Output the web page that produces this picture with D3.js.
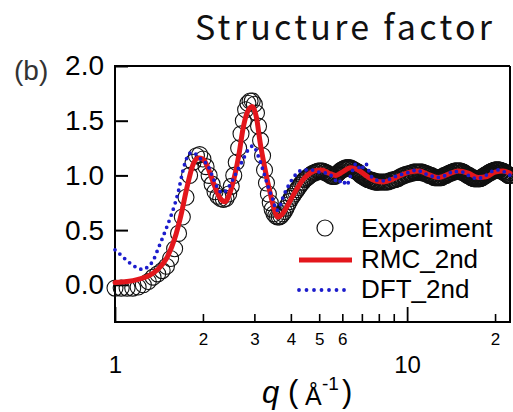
<!DOCTYPE html>
<html>
<head>
<meta charset="utf-8">
<script src="https://cdn.jsdelivr.net/npm/d3@7"></script>
<style>
  html, body { margin: 0; padding: 0; background: #fff; }
  svg { display: block; }
</style>
</head>
<body>
<script>
// ---- Structure factor S(q): experiment, RMC fit and DFT result ----

// Experiment (q in 1/Å, S(q))
const expQ = [
  1.00,1.05,1.10,1.15,1.20,1.25,1.30,1.35,1.40,1.45,
  1.50,1.55,1.60,1.65,1.70,1.75,1.80,1.85,1.90,1.95,
  2.00,2.05,2.10,2.15,2.20,2.25,2.30,2.35,2.40,2.45,
  2.50,2.55,2.60,2.65,2.70,2.75,2.80,2.85,2.90,2.95,
  3.00,3.05,3.10,3.15,3.20,3.25,3.30,3.35,3.40,3.45,
  3.50,3.55,3.60,3.65,3.70,3.75,3.80,3.85,3.90,3.95,
  4.00,
  4.05,4.10,4.15,4.20,4.25,4.30,4.35,4.40,4.45,4.50,
  4.55,4.60,4.65,4.70,4.75,4.80,4.85,4.90,4.95,5.00,
  5.05,5.10,5.15,5.20,5.25,5.30,5.35,5.40,5.45,5.50,
  5.55,5.60,5.65,5.70,5.75,5.80,5.85,5.90,5.95,6.00,
  6.05,6.10,6.15,6.20,6.25,6.30,6.35,6.40,6.45,6.50,
  6.55,6.60,6.65,6.70,6.75,6.80,6.85,6.90,6.95,7.00,
  7.05,7.10,7.15,7.20,7.25,7.30,7.35,7.40,7.45,7.50,
  7.55,7.60,7.65,7.70,7.75,7.80,7.85,7.90,7.95,8.00,
  8.1,8.2,8.3,8.4,8.5,8.6,8.7,8.8,8.9,9.0,
  9.1,9.2,9.3,9.4,9.5,9.6,9.7,9.8,9.9,10.0,
  10.1,10.2,10.3,10.4,10.5,10.6,10.7,10.8,10.9,11.0,
  11.1,11.2,11.3,11.4,11.5,11.6,11.7,11.8,11.9,12.0,
  12.1,12.2,12.3,12.4,12.5,12.6,12.7,12.8,12.9,13.0,
  13.1,13.2,13.3,13.4,13.5,13.6,13.7,13.8,13.9,14.0,
  14.1,14.2,14.3,14.4,14.5,14.6,14.7,14.8,14.9,15.0,
  15.1,15.2,15.3,15.4,15.5,15.6,15.7,15.8,15.9,16.0,
  16.1,16.2,16.3,16.4,16.5,16.6,16.7,16.8,16.9,17.0,
  17.1,17.2,17.3,17.4,17.5,17.6,17.7,17.8,17.9,18.0,
  18.1,18.2,18.3,18.4,18.5,18.6,18.7,18.8,18.9,19.0,
  19.1,19.2,19.3,19.4,19.5,19.6,19.7,19.8,19.9,20.0,
  20.1,20.2,20.3,20.4,20.5,20.6,20.7,20.8,20.9,21.0,
  21.1,21.2,21.3,21.4,21.5,21.6,21.7,21.8,21.9,22.0,
  22.1,22.2,22.3,22.4,22.5
];
const expS = [
  -0.03,-0.03,-0.03,-0.03,-0.02,0.00,0.03,0.07,0.10,0.13,
  0.17,0.24,0.33,0.47,0.62,0.80,1.00,1.12,1.18,1.19,
  1.15,1.08,1.00,0.92,0.85,0.81,0.79,0.78,0.79,0.83,
  0.90,1.00,1.12,1.25,1.38,1.50,1.60,1.66,1.68,1.68,
  1.65,1.57,1.45,1.32,1.18,1.05,0.93,0.83,0.75,0.69,
  0.65,0.63,0.62,0.62,0.63,0.65,0.67,0.70,0.73,0.76,
  0.79,
  0.81,0.83,0.85,0.87,0.89,0.91,0.93,0.94,0.96,0.97,
  0.98,0.99,1.00,1.01,1.02,1.02,1.03,1.03,1.04,1.04,
  1.04,1.04,1.04,1.03,1.03,1.02,1.02,1.01,1.00,1.00,
  0.99,0.99,0.99,1.00,1.01,1.02,1.03,1.04,1.05,1.05,
  1.06,1.06,1.07,1.07,1.07,1.07,1.07,1.07,1.06,1.06,
  1.05,1.05,1.04,1.04,1.03,1.03,1.02,1.01,1.00,1.00,
  0.99,0.99,0.98,0.98,0.97,0.97,0.96,0.96,0.96,0.96,
  0.95,0.95,0.95,0.95,0.94,0.94,0.94,0.94,0.94,0.94,
  0.94,0.94,0.94,0.94,0.94,0.94,0.95,0.95,0.96,0.96,
  0.96,0.97,0.97,0.98,0.99,0.99,1.00,1.00,1.01,1.01,
  1.01,1.02,1.02,1.02,1.03,1.03,1.03,1.03,1.03,1.03,
  1.03,1.03,1.03,1.02,1.02,1.02,1.01,1.01,1.00,1.00,
  1.00,0.99,0.99,0.98,0.98,0.98,0.98,0.98,0.98,0.98,
  0.98,0.99,0.99,1.00,1.00,1.00,1.01,1.01,1.02,1.02,
  1.02,1.03,1.03,1.03,1.04,1.04,1.04,1.04,1.04,1.04,
  1.04,1.04,1.04,1.03,1.03,1.03,1.02,1.02,1.01,1.01,
  1.00,1.00,1.00,0.99,0.99,0.98,0.98,0.98,0.97,0.97,
  0.97,0.97,0.97,0.97,0.97,0.97,0.97,0.97,0.98,0.98,
  0.98,0.99,0.99,1.00,1.00,1.00,1.01,1.01,1.02,1.02,
  1.02,1.03,1.03,1.03,1.04,1.04,1.04,1.04,1.05,1.05,
  1.05,1.05,1.05,1.05,1.05,1.05,1.05,1.05,1.04,1.04,
  1.04,1.04,1.04,1.03,1.03,1.03,1.02,1.02,1.01,1.01,
  1.01,1.00,1.00,1.00,1.00
];

// RMC_2nd
const rmcQ = [
  1.00,1.10,1.20,1.30,1.40,1.50,1.60,1.68,1.76,1.85,
  1.93,2.00,2.08,2.18,2.28,2.38,2.48,2.58,2.66,2.74,
  2.84,2.95,3.05,3.14,3.25,3.39,3.50,3.61,3.72,3.85,
  4.00,4.20,4.40,4.60,4.80,5.10,5.40,5.70,6.00,6.40,
  6.80,7.30,7.80,8.30,8.80,9.50,10.2,11.0,11.8,12.8,
  13.8,15.0,16.2,17.5,18.8,20.0,21.3,22.5
];
const rmcS = [
  0.02,0.03,0.05,0.08,0.14,0.24,0.42,0.63,0.88,1.10,
  1.16,1.15,1.07,0.92,0.80,0.76,0.85,1.02,1.20,1.42,
  1.58,1.63,1.53,1.30,1.08,0.85,0.70,0.62,0.64,0.70,
  0.78,0.88,0.96,1.01,1.04,1.05,1.02,1.00,1.03,1.07,
  1.05,0.99,0.95,0.94,0.96,1.00,1.03,1.04,1.01,0.98,
  1.01,1.04,1.02,0.98,0.99,1.03,1.04,1.02
];

// DFT_2nd
const dftQ = [
  1.00,1.05,1.10,1.15,1.20,1.25,1.30,1.35,1.40,1.45,
  1.50,1.55,1.60,1.65,1.70,1.75,1.80,1.85,1.90,1.95,
  2.00,2.07,2.15,2.23,2.33,2.43,2.53,2.63,2.74,2.85,
  2.97,3.09,3.21,3.34,3.47,3.58,3.67,3.76,3.97,4.20,
  4.40,4.70,5.00,5.30,5.60,5.80,6.00,6.20,6.45,6.70,
  6.95,7.20,7.50,7.80,8.20,8.60,9.10,9.60,10.2,10.8,
  11.4,12.0,12.6,13.2,13.8,14.4,15.0,15.6,16.2,16.8,
  17.4,18.0,18.6,19.2,19.8,20.4,21.0,21.6,22.2,22.5
];
const dftS = [
  0.32,0.27,0.22,0.18,0.15,0.14,0.17,0.22,0.32,0.42,
  0.52,0.62,0.73,0.86,1.02,1.14,1.20,1.21,1.19,1.16,
  1.13,1.10,1.00,0.90,0.84,0.88,0.96,1.05,1.14,1.23,
  1.27,1.18,1.05,0.90,0.78,0.68,0.72,0.80,0.93,1.02,
  1.05,1.05,1.03,1.02,0.98,0.93,0.96,0.91,1.02,1.11,
  1.05,1.11,1.00,0.96,0.95,0.96,0.99,1.01,1.03,1.05,
  1.02,1.00,0.98,0.99,1.01,1.04,1.03,1.03,1.00,0.98,
  0.97,0.98,1.00,1.03,1.04,1.05,1.04,1.03,1.01,1.00
];

// Axis ticks and labels
const yTicks = [0.0, 0.5, 1.0, 1.5, 2.0];
const xMinorTicks = [2, 3, 4, 5, 6, 7, 8, 9, 20];
const xMinorLabels = ["2", "3", "4", "5", "6", "", "", "", "2"];
const xMajorTicks = [1, 10];
const xMajorLabels = ["1", "10"];
const seriesNames = ["Experiment", "RMC_2nd", "DFT_2nd"];

const W = 513, H = 412;
const m = { left: 115, right: 510, top: 66, bottom: 322 };
const RED = "#e3161c", BLUE = "#1c1ccc";
const FONT = "'Liberation Sans', Arial, sans-serif";

const svg = d3.select("body").append("svg")
  .attr("width", W).attr("height", H)
  .attr("viewBox", `0 0 ${W} ${H}`);

const x = d3.scaleLog().domain([1, 22.5]).range([m.left, m.right]);
const y = d3.scaleLinear().domain([-0.34, 2.0]).range([m.bottom, m.top]);

const zip = (qs, ss) => qs.map((q, i) => ({ q, s: ss[i] }));
const expData = zip(expQ, expS);
const rmcData = zip(rmcQ, rmcS);
const dftData = zip(dftQ, dftS);

// Title
svg.append("text")
  .attr("x", 195).attr("y", 40)
  .attr("font-family", "'Noto Sans CJK JP', 'Noto Sans', sans-serif")
  .attr("font-size", 34)
  .attr("textLength", 297).attr("lengthAdjust", "spacing")
  .attr("fill", "#111")
  .text("Structure factor");

// Panel tag
svg.append("text")
  .attr("x", 14).attr("y", 80)
  .attr("font-family", FONT).attr("font-size", 28)
  .attr("fill", "#333")
  .text("(b)");

// Y axis (ticks point inward)
const yAxis = svg.append("g")
  .attr("transform", `translate(${m.left},0)`)
  .call(d3.axisLeft(y).tickValues(yTicks).tickSize(-13).tickPadding(11)
    .tickFormat(d3.format(".1f")));
yAxis.select(".domain").remove();
yAxis.selectAll(".tick line").attr("stroke", "#000").attr("stroke-width", 2);
yAxis.selectAll(".tick text")
  .attr("font-family", FONT).attr("font-size", 28).attr("fill", "#000");

// X axis minor ticks with small labels
const xAxis = svg.append("g")
  .attr("transform", `translate(0,${m.bottom})`)
  .call(d3.axisBottom(x).tickValues(xMinorTicks).tickSize(-8).tickPadding(11)
    .tickFormat((d, i) => xMinorLabels[i]));
xAxis.select(".domain").remove();
xAxis.selectAll(".tick line").attr("stroke", "#000").attr("stroke-width", 1.6);
xAxis.selectAll(".tick text")
  .attr("font-family", FONT).attr("font-size", 17).attr("fill", "#000");

// X axis major ticks (decades) with larger labels set lower
const xMajor = svg.append("g")
  .attr("transform", `translate(0,${m.bottom})`)
  .call(d3.axisBottom(x).tickValues(xMajorTicks).tickSize(-15).tickPadding(34)
    .tickFormat((d, i) => xMajorLabels[i]));
xMajor.select(".domain").remove();
xMajor.selectAll(".tick line").attr("stroke", "#000").attr("stroke-width", 1.8);
xMajor.selectAll(".tick text")
  .attr("font-family", FONT).attr("font-size", 24).attr("fill", "#000");

// Frame
svg.append("path")
  .attr("d", `M${m.right},${m.top}H${m.left}V${m.bottom}H${m.right}V${m.top}`)
  .attr("fill", "none").attr("stroke", "#000").attr("stroke-width", 2);

// Experiment: open circles
svg.append("g").selectAll("circle")
  .data(expData).join("circle")
  .attr("cx", d => x(d.q)).attr("cy", d => y(d.s)).attr("r", 8)
  .attr("fill", "none").attr("stroke", "#111").attr("stroke-width", 1.1);

// RMC: thick red line
const line = d3.line().x(d => x(d.q)).y(d => y(d.s)).curve(d3.curveMonotoneX);
svg.append("path")
  .attr("d", line(rmcData))
  .attr("fill", "none").attr("stroke", RED).attr("stroke-width", 5)
  .attr("stroke-linejoin", "round").attr("stroke-linecap", "round");

// DFT: blue dotted line
svg.append("path")
  .attr("d", line(dftData))
  .attr("fill", "none").attr("stroke", BLUE).attr("stroke-width", 3.8)
  .attr("stroke-linecap", "round").attr("stroke-dasharray", "0 6.5");

// Legend
const lg = svg.append("g").attr("font-family", FONT).attr("font-size", 26).attr("fill", "#000");
lg.append("circle").attr("cx", 325).attr("cy", 228).attr("r", 8)
  .attr("fill", "none").attr("stroke", "#111").attr("stroke-width", 1.2);
lg.append("line").attr("x1", 299).attr("x2", 352).attr("y1", 260).attr("y2", 260)
  .attr("stroke", RED).attr("stroke-width", 5);
lg.append("line").attr("x1", 299).attr("x2", 345).attr("y1", 290).attr("y2", 290)
  .attr("stroke", BLUE).attr("stroke-width", 3.8)
  .attr("stroke-linecap", "round").attr("stroke-dasharray", "0 7.5");
[237, 268, 298].forEach((yy, i) => {
  lg.append("text").attr("x", 361).attr("y", yy).text(seriesNames[i]);
});

// X axis title: q ( Å^-1 )
const xt = svg.append("g").attr("font-family", FONT).attr("fill", "#000");
xt.append("text").attr("x", 262).attr("y", 403).attr("font-size", 31)
  .attr("font-style", "italic").text("q");
xt.append("text").attr("x", 288).attr("y", 402).attr("font-size", 31).text("(");
xt.append("text").attr("x", 305).attr("y", 405).attr("font-size", 25).text("Å");
xt.append("text").attr("x", 322).attr("y", 390).attr("font-size", 19).text("-1");
xt.append("text").attr("x", 342).attr("y", 402).attr("font-size", 31).text(")");
</script>
</body>
</html>
